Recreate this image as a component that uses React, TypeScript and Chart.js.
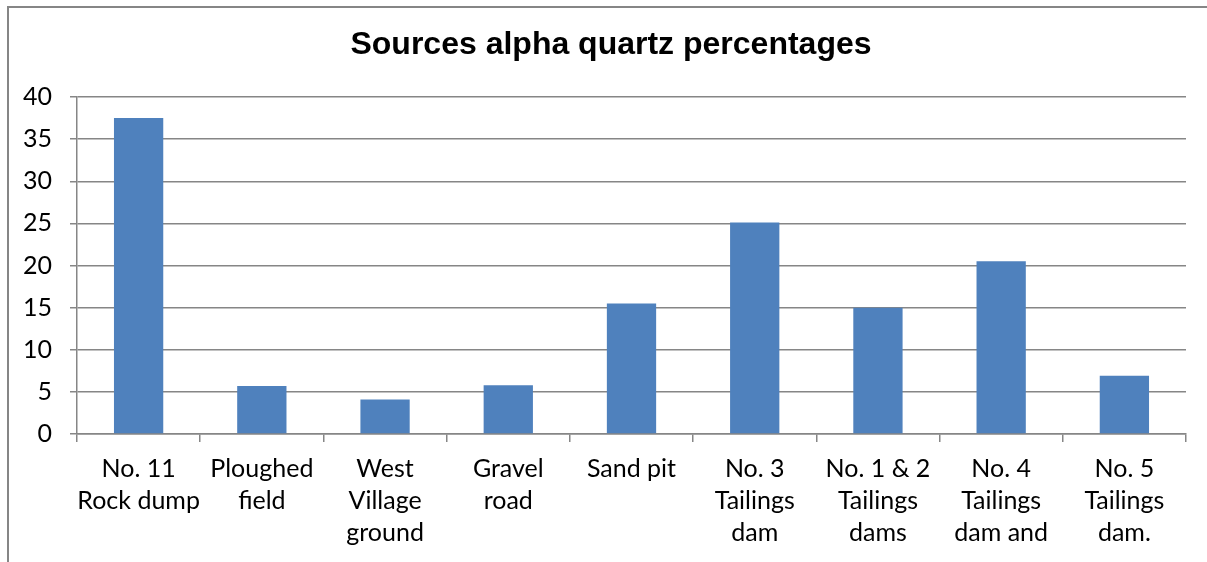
import React, { useEffect, useRef } from "react";
import { Chart, registerables } from "chart.js";

Chart.register(...registerables);

const categories: string[][] = [
  ["No. 11", "Rock dump"],
  ["Ploughed", "field"],
  ["West", "Village", "ground"],
  ["Gravel", "road"],
  ["Sand pit"],
  ["No. 3", "Tailings", "dam"],
  ["No. 1 & 2", "Tailings", "dams"],
  ["No. 4", "Tailings", "dam and"],
  ["No. 5", "Tailings", "dam."],
];
const alphaQuartz: number[] = [37.5, 5.7, 4.1, 5.8, 15.5, 25.1, 15.0, 20.5, 6.9];
const titleText = "Sources alpha quartz percentages";

const GRID = "#868686";
const FONT = "Lato, 'Open Sans', sans-serif";

const shiftTitle = {
  id: "shiftTitle",
  afterLayout(chart: any) {
    const t = chart.titleBlock;
    if (t) {
      t.left = 36;
    }
  },
};

export default function App() {
  const ref = useRef<HTMLCanvasElement | null>(null);
  useEffect(() => {
    document.body.style.margin = "0";
    const ctx = ref.current!.getContext("2d")!;
    const chart = new Chart(ctx, {
      type: "bar",
      plugins: [shiftTitle],
      data: {
        labels: categories,
        datasets: [
          {
            data: alphaQuartz,
            backgroundColor: "#4F81BD",
            borderWidth: 0,
            barPercentage: 0.4,
            categoryPercentage: 1,
          },
        ],
      },
      options: {
        animation: false,
        responsive: false,
        maintainAspectRatio: false,
        layout: { padding: { left: 0, right: 21, top: 0, bottom: 0 } },
        plugins: {
          legend: { display: false },
          tooltip: { enabled: false },
          title: {
            display: true,
            text: titleText,
            color: "#000",
            font: { family: "Arial, 'Liberation Sans', sans-serif", size: 32, weight: "bold", lineHeight: 1.2 },
            padding: { top: 26, bottom: 32.6 },
          },
        },
        scales: {
          x: {
            offset: true,
            grid: {
              offset: true,
              drawOnChartArea: false,
              drawTicks: true,
              tickLength: 8,
              color: GRID,
              lineWidth: 1.5,
            },
            border: { color: GRID, width: 1.5 },
            ticks: {
              color: "#000",
              font: { family: FONT, size: 25, lineHeight: 1.28 },
              padding: 11,
              maxRotation: 0,
              autoSkip: false,
            },
            afterFit: (s: any) => {
              s.height = 128;
            },
          },
          y: {
            min: 0,
            max: 40,
            ticks: {
              stepSize: 5,
              color: "#000",
              font: { family: FONT, size: 25 },
              padding: 18,
            },
            grid: { color: GRID, lineWidth: 1.5, tickLength: 7 },
            border: { color: GRID, width: 1.5 },
            afterFit: (s: any) => {
              s.width = 77;
            },
          },
        },
      },
    });
    return () => chart.destroy();
  }, []);
  return (
    <div style={{ position: "relative", width: 1207, height: 562, background: "#fff" }}>
      <div
        style={{
          position: "absolute",
          left: 7,
          top: 6,
          right: 0,
          bottom: 0,
          borderTop: `2px solid ${GRID}`,
          borderLeft: `2px solid ${GRID}`,
        }}
      />
      <canvas ref={ref} width={1207} height={562} style={{ position: "absolute", left: 0, top: 0 }} />
    </div>
  );
}
